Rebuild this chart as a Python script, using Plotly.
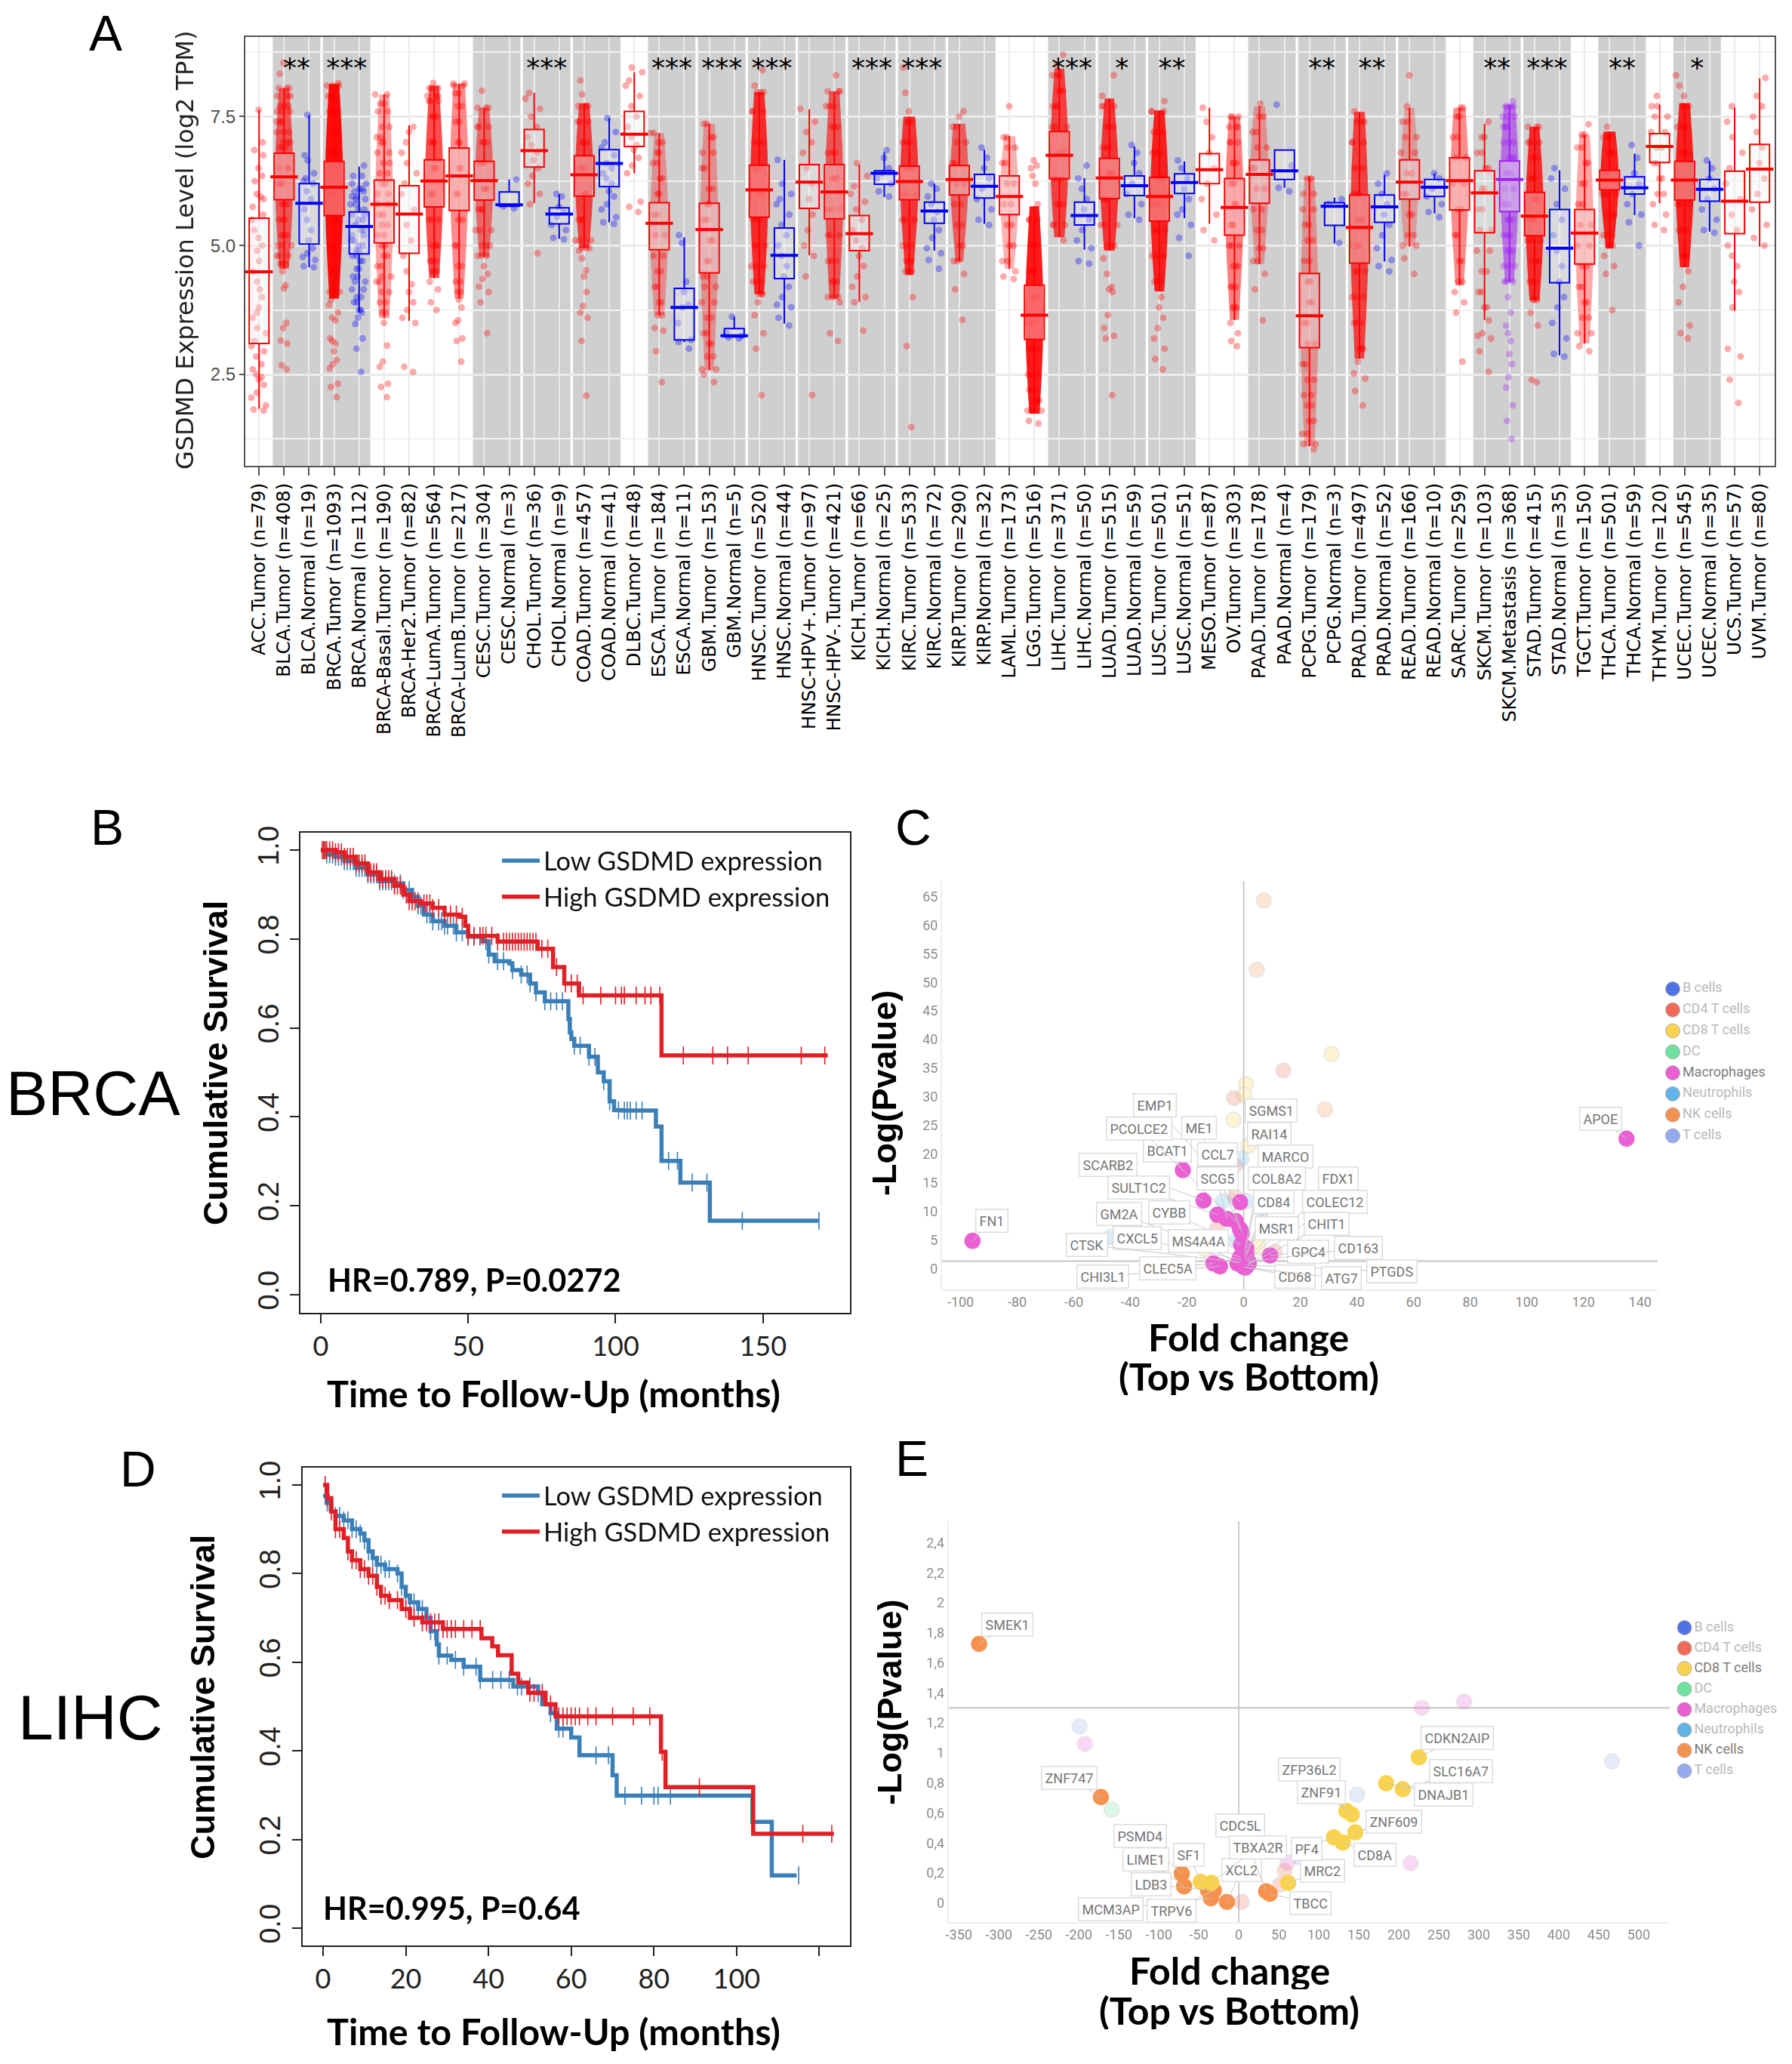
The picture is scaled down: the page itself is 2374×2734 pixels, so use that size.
import plotly.graph_objects as go

W, H = 2374, 2734

# ---- panel A ----
CATEGORIES = ["ACC.Tumor (n=79)", "BLCA.Tumor (n=408)", "BLCA.Normal (n=19)", "BRCA.Tumor (n=1093)", "BRCA.Normal (n=112)",
              "BRCA-Basal.Tumor (n=190)", "BRCA-Her2.Tumor (n=82)", "BRCA-LumA.Tumor (n=564)", "BRCA-LumB.Tumor (n=217)",
              "CESC.Tumor (n=304)", "CESC.Normal (n=3)", "CHOL.Tumor (n=36)", "CHOL.Normal (n=9)", "COAD.Tumor (n=457)",
              "COAD.Normal (n=41)", "DLBC.Tumor (n=48)", "ESCA.Tumor (n=184)", "ESCA.Normal (n=11)", "GBM.Tumor (n=153)",
              "GBM.Normal (n=5)", "HNSC.Tumor (n=520)", "HNSC.Normal (n=44)", "HNSC-HPV+.Tumor (n=97)", "HNSC-HPV-.Tumor (n=421)",
              "KICH.Tumor (n=66)", "KICH.Normal (n=25)", "KIRC.Tumor (n=533)", "KIRC.Normal (n=72)", "KIRP.Tumor (n=290)",
              "KIRP.Normal (n=32)", "LAML.Tumor (n=173)", "LGG.Tumor (n=516)", "LIHC.Tumor (n=371)", "LIHC.Normal (n=50)",
              "LUAD.Tumor (n=515)", "LUAD.Normal (n=59)", "LUSC.Tumor (n=501)", "LUSC.Normal (n=51)", "MESO.Tumor (n=87)",
              "OV.Tumor (n=303)", "PAAD.Tumor (n=178)", "PAAD.Normal (n=4)", "PCPG.Tumor (n=179)", "PCPG.Normal (n=3)",
              "PRAD.Tumor (n=497)", "PRAD.Normal (n=52)", "READ.Tumor (n=166)", "READ.Normal (n=10)", "SARC.Tumor (n=259)",
              "SKCM.Tumor (n=103)", "SKCM.Metastasis (n=368)", "STAD.Tumor (n=415)", "STAD.Normal (n=35)", "TGCT.Tumor (n=150)",
              "THCA.Tumor (n=501)", "THCA.Normal (n=59)", "THYM.Tumor (n=120)", "UCEC.Tumor (n=545)", "UCEC.Normal (n=35)",
              "UCS.Tumor (n=57)", "UVM.Tumor (n=80)"]
Q3 = [5.53, 6.79, 6.20, 6.63, 5.65, 6.27, 6.16, 6.66, 6.89, 6.63, 6.04, 7.25, 5.73, 6.74, 6.86, 7.60, 5.83, 4.17, 5.82, 3.39,
      6.56, 5.34, 6.57, 6.57, 5.58, 6.45, 6.54, 5.84, 6.55, 6.38, 6.35, 4.23, 7.21, 5.84, 6.69, 6.35, 6.32, 6.39, 6.78, 6.30,
      6.66, 6.85, 4.46, 5.83, 5.98, 5.98, 6.66, 6.28, 6.70, 6.45, 6.64, 6.03, 5.70, 5.70, 6.46, 6.33, 7.17, 6.63, 6.28, 6.44, 6.96]
MEDIAN = [4.49, 6.33, 5.82, 6.13, 5.37, 5.80, 5.61, 6.25, 6.35, 6.26, 5.79, 6.84, 5.61, 6.37, 6.59, 7.16, 5.43, 3.80, 5.31, 3.25,
          6.08, 4.81, 6.23, 6.04, 5.23, 6.40, 6.24, 5.67, 6.28, 6.15, 5.95, 3.65, 6.75, 5.58, 6.31, 6.16, 5.95, 6.22, 6.47, 5.74,
          6.38, 6.45, 3.64, 5.76, 5.35, 5.75, 6.23, 6.13, 6.26, 6.02, 6.28, 5.57, 4.95, 5.24, 6.27, 6.12, 6.92, 6.27, 6.09, 5.86, 6.48]
Q1 = [3.10, 5.89, 5.03, 5.58, 4.84, 5.05, 4.85, 5.75, 5.68, 5.88, 5.76, 6.52, 5.42, 5.96, 6.14, 6.92, 4.92, 3.17, 4.47, 3.23,
      5.55, 4.36, 5.72, 5.52, 4.90, 6.19, 5.89, 5.43, 5.98, 5.92, 5.60, 3.18, 6.30, 5.40, 5.91, 5.97, 5.47, 6.01, 6.20, 5.20,
      5.82, 6.28, 3.02, 5.39, 4.66, 5.45, 5.90, 5.95, 5.69, 5.25, 5.66, 5.19, 4.28, 4.64, 6.08, 6.00, 6.61, 5.88, 5.86, 5.23, 5.84]
WHISKER_HI = [7.63, 8.05, 7.53, 8.13, 6.53, 7.93, 7.33, 8.10, 8.14, 7.67, 6.28, 7.96, 6.00, 7.76, 7.47, 8.36, 7.18, 5.16, 7.36, 3.62,
              7.97, 6.66, 7.64, 7.99, 6.57, 6.81, 7.50, 6.20, 7.36, 6.86, 7.12, 5.76, 8.43, 6.31, 7.85, 6.92, 7.62, 6.63, 7.67, 7.50,
              7.70, 6.85, 6.34, 5.93, 7.59, 6.37, 7.67, 6.40, 7.67, 7.36, 7.73, 7.30, 6.46, 7.15, 7.21, 6.78, 7.73, 7.76, 6.64, 7.67, 8.24]
WHISKER_LO = [1.83, 4.55, 4.58, 3.97, 3.71, 3.59, 3.54, 4.37, 3.97, 4.78, 5.76, 5.82, 5.13, 4.95, 5.45, 6.40, 3.65, 3.13, 2.58, 3.22,
              4.06, 3.49, 4.81, 3.97, 3.91, 5.94, 4.43, 4.90, 4.69, 5.42, 4.55, 1.74, 5.16, 4.92, 4.90, 5.53, 4.11, 5.53, 5.42, 3.56,
              4.64, 6.12, 1.11, 5.04, 2.81, 4.69, 4.98, 5.62, 4.23, 3.56, 4.29, 3.94, 2.87, 3.10, 4.95, 5.59, 5.82, 4.58, 5.27, 3.74, 4.98]
POINTS = [
    [7.63, 7.0, 6.85, 6.75, 6.5, 6.35, 6.25, 6.0, 5.95, 5.9, 5.75, 5.6, 5.5, 5.3, 5.15, 5.0, 4.9, 4.7, 4.5, 4.3, 4.15, 4.0, 3.8, 3.7, 3.6, 3.4, 3.3, 3.15, 3.05, 2.95, 2.85, 2.7, 2.6, 2.5, 2.45, 2.4, 2.3, 2.15, 2.05, 1.9, 1.82, 1.8],
    [8.54, 8.33, 8.05, 7.9, 7.7, 7.6, 7.4, 7.2, 7.0, 6.9, 6.5, 6.2, 5.8, 5.5, 5.2, 5.0, 4.8, 4.65, 4.5, 4.23, 4.17, 3.5, 3.4, 3.16, 3.1, 2.68, 2.6],
    [7.53, 6.75, 6.65, 6.4, 6.3, 6.25, 6.2, 6.05, 5.9, 5.7, 5.5, 5.3, 5.1, 4.95, 4.85, 4.78, 4.72, 4.6, 4.58],
    [8.15, 8.1, 7.9, 7.6, 7.2, 6.8, 6.5, 6.0, 5.5, 5.0, 4.5, 4.1, 3.95, 3.85, 3.7, 3.6, 3.55, 3.2, 3.15, 3.1, 2.95, 2.78, 2.7, 2.62, 2.32, 2.26, 2.06],
    [6.55, 6.35, 6.2, 6.1, 6.05, 5.95, 5.9, 5.8, 5.7, 5.6, 5.5, 5.4, 5.3, 5.2, 5.1, 5, 4.9, 4.8, 4.7, 4.55, 4.4, 4.3, 4.15, 4, 3.9, 3.75, 3.7, 3.6, 3.48, 3.2, 3.0, 2.55],
    [7.93, 7.75, 7.6, 7.3, 7.1, 7, 6.8, 6.6, 6.4, 6.2, 6, 5.8, 5.6, 5.4, 5.2, 5, 4.8, 4.6, 4.4, 4.3, 4.1, 3.9, 3.7, 3.5, 3.06, 2.75, 2.65, 2.32, 2.26, 2.06],
    [7.3, 7.2, 7, 6.8, 6.6, 6.4, 6.2, 6, 5.7, 5.4, 5.1, 4.8, 4.5, 4.25, 4.1, 3.9, 3.75, 3.6, 3.5, 2.65, 2.55],
    [8.15, 8.05, 7.9, 7.8, 7.5, 7, 6.5, 6, 5.5, 5, 4.7, 4.5, 4.3, 4.15, 3.9, 3.75],
    [8.14, 8.1, 7.95, 7.7, 7.4, 7, 6.5, 6, 5.5, 5, 4.6, 4.3, 4.1, 3.95, 3.8, 3.55, 3.5, 3.2, 3.15, 2.75],
    [8.0, 7.67, 7.3, 7, 6.6, 6.1, 5.7, 5.3, 5, 4.8, 4.6, 4.45, 4.35, 4.2, 4.1, 3.9, 3.3],
    [6.28, 5.76, 5.72],
    [7.96, 7.85, 7.65, 7.5, 7.3, 7.1, 6.95, 6.8, 6.65, 6.5, 6.35, 6.2, 6.0, 5.8, 4.85],
    [6.0, 5.95, 5.75, 5.65, 5.55, 5.4, 5.3, 5.15, 5.12],
    [8.2, 7.93, 7.7, 7.4, 7, 6.5, 6, 5.5, 5.1, 4.95, 4.9, 4.75, 4.52, 4.4, 4.1, 3.83, 3.7, 3.6, 3.15, 2.09],
    [7.47, 7.2, 7, 6.9, 6.75, 6.6, 6.5, 6.4, 6.3, 6.2, 6.05, 5.95, 5.8, 5.7, 5.55, 5.45, 5.42],
    [8.45, 8.36, 8.2, 8.1, 7.9, 7.7, 7.5, 7.3, 7.1, 6.95, 6.85, 6.7, 6.55, 6.4, 5.85, 5.75, 5.65],
    [7.18, 7.0, 6.8, 6.6, 6.3, 6, 5.6, 5.2, 4.8, 4.5, 4.2, 3.9, 3.65, 3.4, 3.35, 2.95, 2.35],
    [5.2, 5.05, 4.3, 4.1, 3.85, 3.8, 3.5, 3.17, 3.13, 3.0],
    [7.36, 7.1, 6.8, 6.5, 6.1, 5.8, 5.5, 5.1, 4.7, 4.4, 4.2, 3.9, 3.6, 3.3, 3.1, 2.85, 2.6, 2.5, 2.35],
    [3.62, 3.3, 3.25, 3.22, 3.2],
    [8.4, 8.1, 7.97, 7.6, 7, 6.5, 6, 5.5, 5, 4.6, 4.3, 4.06, 3.9, 3.65, 3.3, 3.0, 2.1],
    [6.66, 6.2, 6.0, 5.9, 5.8, 5.6, 5.4, 5.2, 5.0, 4.8, 4.6, 4.4, 4.2, 4.0, 3.85, 3.8, 3.6, 3.45],
    [7.65, 7.4, 7.2, 7, 6.8, 6.5, 6.2, 5.9, 5.6, 5.3, 5, 4.8, 4.4, 2.1],
    [8.3, 7.99, 7.7, 7.3, 6.8, 6.3, 5.7, 5.2, 4.7, 4.3, 4, 3.9, 3.3, 3.15],
    [6.6, 6.35, 6.15, 6.0, 5.85, 5.7, 5.5, 5.3, 5.1, 4.95, 4.8, 4.6, 4.4, 4.2, 4.0, 3.9, 3.35],
    [6.85, 6.7, 6.5, 6.4, 6.3, 6.2, 6.05, 5.95],
    [8.45, 7.96, 7.6, 7.4, 7, 6.5, 6, 5.5, 5, 4.7, 4.5, 4.0, 3.05, 1.48],
    [6.2, 6.1, 5.95, 5.8, 5.65, 5.5, 5.3, 5.15, 4.95, 4.85, 4.72, 4.55],
    [7.6, 7.5, 7.3, 7, 6.6, 6.2, 5.8, 5.4, 5, 4.7, 4.45, 4.15, 3.56],
    [6.9, 6.7, 6.5, 6.3, 6.1, 5.9, 5.7, 5.5, 5.4],
    [7.7, 7.1, 6.9, 6.6, 6.2, 5.8, 5.4, 5, 4.7, 4.5, 4.4, 4.35],
    [6.65, 6.55, 6.5, 6.35, 6.2, 5.8, 5.5, 5, 4.5, 4, 3.5, 3, 2.5, 2.2, 2, 1.8, 1.6, 1.55],
    [8.7, 8.5, 8.3, 8, 7.7, 7.3, 6.8, 6.3, 5.8, 5.4, 5.1],
    [6.55, 6.3, 6.1, 5.9, 5.7, 5.5, 5.3, 5.1, 4.95, 4.7, 4.65],
    [8.3, 7.9, 7.7, 7.3, 6.9, 6.4, 5.9, 5.4, 5, 4.75, 4.45, 4.2, 4.15, 4.1, 3.65, 3.4, 3.25, 3.2, 2.1],
    [6.95, 6.8, 6.6, 6.4, 6.2, 6, 5.8, 5.6, 5.5],
    [7.8, 7.6, 7.2, 6.8, 6.3, 5.8, 5.3, 4.8, 4.3, 4, 3.8, 3.6, 3.4, 3.2, 3, 2.8, 2.6],
    [6.65, 6.5, 6.3, 6.1, 5.9, 5.7, 5.6, 5.4, 5.15, 4.8],
    [7.67, 7.4, 7.1, 6.8, 6.5, 6.2, 5.9, 5.6, 5.3, 5.1],
    [7.5, 7.3, 7, 6.6, 6.2, 5.8, 5.4, 5, 4.6, 4.2, 3.8, 3.5, 3.3, 3.15, 3.05],
    [7.75, 7.5, 7.2, 6.9, 6.5, 6.1, 5.7, 5.3, 4.95, 4.7, 4.45, 4.15, 3.55],
    [7.73, 6.55, 6.12, 6.05],
    [6.3, 6, 5.7, 5.4, 5.1, 4.7, 4.3, 3.9, 3.5, 3.1, 2.7, 2.4, 2.1, 1.9, 1.6, 1.35, 1.15, 1.05],
    [5.9, 5.8, 5.05],
    [7.6, 7.4, 7, 6.5, 6, 5.5, 5, 4.5, 4, 3.5, 3, 2.75, 2.52, 2.42, 2.18, 1.9],
    [6.4, 6.2, 6, 5.8, 5.6, 5.4, 5.2, 4.95, 4.72, 4.6, 4.5],
    [8.3, 7.7, 7.4, 7.1, 6.8, 6.4, 6, 5.6, 5.2, 5, 4.75, 4.45],
    [6.4, 6.3, 6.1, 5.95, 5.8, 5.65, 5.55],
    [7.67, 7.5, 7.1, 6.7, 6.2, 5.7, 5.2, 4.7, 4.3, 4.1, 3.9, 3.7, 2.75],
    [7.4, 7.1, 6.8, 6.5, 6.1, 5.7, 5.3, 4.9, 4.5, 4.1, 3.8, 3.55, 3.3, 3.25, 3.2, 2.95, 2.55],
    [7.8, 7.7, 7.5, 7.3, 7, 6.7, 6.4, 6.1, 5.8, 5.5, 5.2, 4.9, 4.6, 4.3, 4, 3.7, 3.45, 3.3, 3.15, 2.9, 2.7, 2.45, 2.25, 1.9, 1.6, 1.25],
    [7.3, 7, 6.7, 6.3, 5.9, 5.5, 5.1, 4.7, 4.3, 3.95, 3.7, 3.45, 2.4, 2.35],
    [6.5, 6.3, 6.1, 5.8, 5.5, 5.2, 4.9, 4.6, 4.3, 4, 3.8, 3.5, 3.2, 2.9, 2.85],
    [7.35, 7.15, 6.9, 6.6, 6.2, 5.8, 5.4, 5, 4.6, 4.2, 3.9, 3.6, 3.3, 3.05, 2.95],
    [7.3, 7.1, 6.8, 6.4, 6, 5.6, 5.2, 5, 4.8, 4.6, 4.45, 3.75],
    [6.95, 6.7, 6.4, 6.2, 6, 5.8, 5.6, 5.45, 5.0],
    [7.9, 7.7, 7.5, 7.2, 6.9, 6.6, 6.3, 6, 5.8, 5.6, 5.4, 5.3],
    [8.3, 8.1, 7.9, 7.7, 7.3, 6.8, 6.3, 5.8, 5.3, 4.8, 4.5, 4.2, 3.9, 3.45, 3.3, 3.2],
    [6.65, 6.5, 6.3, 6.1, 5.9, 5.7, 5.5, 5.3, 5.25],
    [7.7, 7.4, 7.1, 6.8, 6.5, 6.2, 5.9, 5.6, 5.3, 5, 4.8, 4.6, 4.3, 4.1, 3.8, 3.0, 2.85, 2.4, 1.95],
    [8.25, 7.9, 7.7, 7.5, 7.2, 6.9, 6.6, 6.3, 6, 5.7, 5.4, 5.15, 5],
]
# crowded clouds get a soft density body under the dots
CORE_CATS = ["BLCA.Tumor", "BRCA.Tumor", "BRCA-LumA.Tumor", "BRCA-LumB.Tumor", "CESC.Tumor", "COAD.Tumor", "HNSC.Tumor", "HNSC-HPV-.Tumor",
             "KIRC.Tumor", "KIRP.Tumor", "LGG.Tumor", "LIHC.Tumor", "LUAD.Tumor", "LUSC.Tumor", "OV.Tumor", "PRAD.Tumor",
             "SARC.Tumor", "SKCM.Metastasis", "STAD.Tumor", "TGCT.Tumor", "THCA.Tumor", "UCEC.Tumor", "BRCA-Basal.Tumor",
             "GBM.Tumor", "ESCA.Tumor", "LAML.Tumor", "PAAD.Tumor", "PCPG.Tumor", "READ.Tumor"]
CORE_ALPHA = [0.6, 0.95, 0.7, 0.45, 0.5, 0.7, 0.8, 0.6, 0.75, 0.55, 0.9, 0.7, 0.75, 0.85, 0.5, 0.7, 0.45, 0.55, 0.8, 0.35, 0.85, 0.85, 0.35,
              0.3, 0.3, 0.3, 0.3, 0.3, 0.25]

GREY_BANDS = ["BLCA", "BRCA", "CESC", "CHOL", "COAD", "ESCA", "GBM", "HNSC", "HNSC-HPV", "KICH", "KIRC", "KIRP", "LIHC", "LUAD",
              "LUSC", "PAAD", "PCPG", "PRAD", "READ", "SKCM", "STAD", "THCA", "UCEC"]
STAR_CANCERS = ["BLCA", "BRCA", "CHOL", "ESCA", "GBM", "HNSC", "KICH", "KIRC", "LIHC", "LUAD", "LUSC", "PCPG", "PRAD", "SKCM", "STAD", "THCA", "UCEC"]
STAR_TEXT = ["**", "***", "***", "***", "***", "***", "***", "***", "***", "*", "**", "**", "**", "**", "***", "**", "*"]

# ---- panels B, D: survival curves ----
B_LOW_T = [0, 2, 5, 8, 12, 16, 20, 25, 28, 31, 33, 35, 38, 42, 46, 50, 55, 57, 59, 64, 65, 68, 71, 73, 76, 84, 84.5, 85, 86, 91, 94, 96, 98, 99.5, 102, 113.7, 115.6, 122, 132, 169]
B_LOW_S = [1.0, 0.99, 0.985, 0.975, 0.96, 0.945, 0.93, 0.925, 0.91, 0.895, 0.875, 0.855, 0.84, 0.83, 0.815, 0.805, 0.795, 0.765, 0.75, 0.745, 0.73, 0.72, 0.70, 0.68, 0.66, 0.62, 0.59, 0.575, 0.56, 0.535, 0.50, 0.48, 0.435, 0.415, 0.414, 0.378, 0.301, 0.252, 0.166, 0.166]
B_HIGH_T = [0, 5, 8, 12, 16, 20, 25, 28, 30, 34, 38, 42, 47, 49, 50, 60, 73.6, 78.8, 82.6, 87.6, 115.6, 172]
B_HIGH_S = [1.0, 0.995, 0.985, 0.97, 0.95, 0.935, 0.92, 0.90, 0.885, 0.88, 0.87, 0.855, 0.85, 0.83, 0.807, 0.794, 0.778, 0.737, 0.70, 0.673, 0.538, 0.538]
B_LOW_CENSOR = [1, 2, 3, 4, 5, 6, 7, 8, 9, 10, 11, 12, 13, 14, 15, 16, 17, 18, 19, 20, 21, 22, 23, 24, 25, 27, 28, 30, 31, 33, 34, 36, 37, 38, 40, 41, 42, 43, 45, 46, 48, 50, 52, 54, 56, 57, 60, 62, 65, 68, 70, 71, 73, 76, 78, 80, 82, 84, 86, 88, 91, 93, 96, 98, 101, 103, 104, 105, 107, 109, 118, 121, 126, 131, 143, 169]
B_HIGH_CENSOR = [0.5, 1, 1.5, 2, 3, 4, 5, 6, 7, 8, 9, 10, 11, 12, 13, 14, 15, 16, 17, 18, 19, 20, 21, 22, 23, 24, 25, 26, 27, 29, 30, 31, 32, 33, 35, 36, 37, 38, 40, 42, 44, 46, 48, 50, 52, 54, 55, 56, 58, 60, 62, 63, 64, 65, 66, 67, 68, 69, 70, 71, 72, 73, 75, 77, 80, 83, 85, 87, 89, 95, 100, 102, 103, 107, 110, 112, 115, 123, 133, 138, 145, 163, 171]

D_LOW_T = [0, 1, 2, 3, 5, 7, 9, 10, 11, 12, 13, 15, 18, 19, 20, 21, 23, 25, 26, 27.5, 28, 31, 34, 38, 46, 52, 53, 55, 56.5, 60, 62, 70, 71, 103.8, 108.5, 114.5]
D_LOW_S = [0.975, 0.96, 0.94, 0.93, 0.92, 0.90, 0.89, 0.875, 0.85, 0.835, 0.82, 0.81, 0.80, 0.77, 0.75, 0.735, 0.72, 0.70, 0.67, 0.64, 0.615, 0.605, 0.59, 0.56, 0.545, 0.53, 0.505, 0.485, 0.45, 0.43, 0.39, 0.345, 0.299, 0.24, 0.119, 0.119]
D_HIGH_T = [0, 1, 2, 3, 5, 6, 7, 9, 11, 13, 14, 16, 19, 21, 24, 29, 38.3, 40.9, 42.3, 45.6, 47.2, 49.6, 53.8, 56.2, 81.7, 82.8, 104, 123.5]
D_HIGH_S = [1.0, 0.97, 0.94, 0.90, 0.88, 0.85, 0.83, 0.81, 0.795, 0.77, 0.75, 0.74, 0.72, 0.70, 0.69, 0.675, 0.654, 0.636, 0.616, 0.574, 0.554, 0.531, 0.505, 0.478, 0.398, 0.318, 0.213, 0.213]
D_LOW_CENSOR = [0.5, 1, 1.5, 3, 4, 5, 6, 7, 8, 9, 10, 11, 12, 13, 14, 15, 16, 18, 19, 20, 21, 22, 23, 24, 25, 26, 27, 28, 30, 32, 34, 37, 38, 41, 43, 45, 47, 48, 50, 52, 55, 57, 58, 66, 69, 73, 77, 80, 81, 84, 115]
D_HIGH_CENSOR = [0.5, 1, 2, 3, 4, 6, 7, 8, 9, 10, 11, 12, 13, 14, 15, 16, 18, 20, 22, 24, 25, 26, 27, 28, 29, 30, 31, 32, 34, 36, 38, 50, 51, 53, 55, 57, 58, 59, 60, 61, 62, 64, 66, 70, 75, 79, 82, 91, 116, 123]

# ---- panels C, E: volcano plots ----
CELL_TYPES = ["B cells", "CD4 T cells", "CD8 T cells", "DC", "Macrophages", "Neutrophils", "NK cells", "T cells"]

C_CD4_X = [14, -3.4, -3, -3, -9.4, 11]
C_CD4_Y = [34.6, 29.8, 18, 12.5, 7.1, 3]
C_CD8_X = [31, 0.8, 0.2, -3.6, 1.7, 5.2, -13.6]
C_CD8_Y = [37.5, 32.2, 30.3, 26, 21.5, 3.8, 3.4]
C_NK_X = [7.1, 4.6, 28.7]
C_NK_Y = [64.3, 52.2, 27.8]
C_NEUT_X = [-0.8, -7.3, -7.3, 1, 6.3, -47, -3]
C_NEUT_Y = [19.2, 17.9, 11.8, 11.8, 10.2, 5.5, 4.8]
C_GENES = ["APOE", "FN1", "BCAT1", "SCARB2", "SULT1C2", "EMP1", "PCOLCE2", "ME1", "CCL7", "SCG5", "CYBB", "GM2A", "CXCL5", "MS4A4A", "CTSK",
           "CHI3L1", "CLEC5A", "SGMS1", "RAI14", "MARCO", "COL8A2", "FDX1", "CD84", "COLEC12", "MSR1", "CHIT1", "GPC4", "CD163", "PTGDS", "CD68", "ATG7"]
C_GENE_X = [135.2, -95.8, -21.5, -14.2, -9.3, -1.3, -2.8, -1.3, -0.6, -6, -0.9, -1.3, -0.5, -2.2, -1.0,
            -8.4, -10.7, 0.3, 0.9, 0.4, 0.5, 1.3, 1, 1.8, 0.9, 1.5, 9.3, 1.7, 1.2, 0, 0.6]
C_GENE_Y = [22.7, 4.85, 17.2, 11.9, 9.4, 11.6, 8.3, 6.9, 6.2, 8.7, 4.2, 2, 1.5, 0.9, 1.1,
            0.4, 0.9, 3, 3.6, 2.4, 1.7, 1.2, 2.6, 0.9, 1.4, 0.7, 2.3, 1.2, 0.6, 0.3, 0.2]
C_XTICKS = [-100, -80, -60, -40, -20, 0, 20, 40, 60, 80, 100, 120, 140]
C_YTICKS = [0, 5, 10, 15, 20, 25, 30, 35, 40, 45, 50, 55, 60, 65]

E_MACRO_X = [228.8, 281.6, -192.4, 214.7, 60.9]
E_MACRO_Y = [1.30, 1.342, 1.06, 0.265, 0.27]
E_TCELL_X = [-199.1, 466.6, 147.8, 267.5, -98, 76.5, 93.6]
E_TCELL_Y = [1.177, 0.944, 0.722, 0.79, 0.214, 0.303, 0.317]
E_DC_X = [-159]
E_DC_Y = [0.622]
E_CD4_X = [57.2, 51.3, 3.7]
E_CD4_Y = [0.214, 0.122, 0.008]
E_NK_GENES = ["SMEK1", "ZNF747", "PSMD4", "LIME1", "LDB3", "MCM3AP", "TRPV6", "XCL2", "CDC5L", "TBCC"]
E_NK_X = [-324.7, -172.4, -71.3, -68.4, -38.6, -34.9, -31.2, -14.9, 34.2, 38.6]
E_NK_Y = [1.726, 0.706, 0.195, 0.111, 0.087, 0.032, 0.084, 0.008, 0.078, 0.062]
E_CD8_GENES = ["CDKN2AIP", "SLC16A7", "DNAJB1", "ZFP36L2", "ZNF91", "ZNF609", "CD8A", "MRC2", "PF4", "SF1", "TBXA2R"]
E_CD8_X = [225.1, 205, 184.2, 134.5, 141.2, 145.6, 130, 61.7, 118.9, -47.5, -34.2]
E_CD8_Y = [0.971, 0.758, 0.798, 0.614, 0.59, 0.471, 0.403, 0.135, 0.438, 0.141, 0.135]
E_XTICKS = [-350, -300, -250, -200, -150, -100, -50, 0, 50, 100, 150, 200, 250, 300, 350, 400, 450, 500]
E_YTICKS = [0, 0.2, 0.4, 0.6, 0.8, 1, 1.2, 1.4, 1.6, 1.8, 2, 2.2, 2.4]
E_YLABELS = ["0", "0,2", "0,4", "0,6", "0,8", "1", "1,2", "1,4", "1,6", "1,8", "2", "2,2", "2,4"]

# label box centres, separate from the values above
C_LABEL_AX = {"APOE": 126.2, "FN1": -88.9, "BCAT1": -26.9, "SCARB2": -48, "SULT1C2": -37, "EMP1": -31.4, "PCOLCE2": -36.9, "ME1": -15.7, "CCL7": -9.3,
              "SCG5": -9.3, "CYBB": -26.2, "GM2A": -44, "CXCL5": -37.5, "MS4A4A": -16, "CTSK": -55.4, "CHI3L1": -49.8, "CLEC5A": -26.7, "SGMS1": 9.8,
              "RAI14": 9.1, "MARCO": 14.8, "COL8A2": 11.8, "FDX1": 33.3, "CD84": 10.5, "COLEC12": 32.2, "MSR1": 11.6, "CHIT1": 29.2, "GPC4": 22.8,
              "CD163": 40.6, "PTGDS": 52.4, "CD68": 18, "ATG7": 34.4}
C_LABEL_AY = {"APOE": 26.1, "FN1": 8.3, "BCAT1": 20.6, "SCARB2": 18.1, "SULT1C2": 14.1, "EMP1": 28.6, "PCOLCE2": 24.5, "ME1": 24.6, "CCL7": 19.9,
              "SCG5": 15.7, "CYBB": 9.8, "GM2A": 9.6, "CXCL5": 5.3, "MS4A4A": 4.8, "CTSK": 4.2, "CHI3L1": -1.4, "CLEC5A": 0.05, "SGMS1": 27.6,
              "RAI14": 23.5, "MARCO": 19.6, "COL8A2": 15.7, "FDX1": 15.7, "CD84": 11.7, "COLEC12": 11.7, "MSR1": 7, "CHIT1": 7.8, "GPC4": 3,
              "CD163": 3.6, "PTGDS": -0.5, "CD68": -1.4, "ATG7": -1.7}
E_LABEL_AX = {"SMEK1": -289, "ZNF747": -211.7, "PSMD4": -123.3, "LIME1": -115.9, "SF1": -62.4, "LDB3": -110, "MCM3AP": -160.5, "TRPV6": -84, "CDC5L": 2.2,
              "TBXA2R": 23.8, "XCL2": 3.7, "PF4": 84.7, "MRC2": 104.8, "TBCC": 89.2, "CD8A": 170.1, "ZNF609": 193.9, "ZNF91": 103.3, "ZFP36L2": 87.7,
              "DNAJB1": 256.3, "SLC16A7": 277.9, "CDKN2AIP": 273.4}
E_LABEL_AY = {"SMEK1": 1.856, "ZNF747": 0.833, "PSMD4": 0.444, "LIME1": 0.292, "SF1": 0.319, "LDB3": 0.124, "MCM3AP": -0.043, "TRPV6": -0.051, "CDC5L": 0.519,
              "TBXA2R": 0.371, "XCL2": 0.222, "PF4": 0.363, "MRC2": 0.216, "TBCC": 0.0, "CD8A": 0.322, "ZNF609": 0.544, "ZNF91": 0.736, "ZFP36L2": 0.887,
              "DNAJB1": 0.725, "SLC16A7": 0.877, "CDKN2AIP": 1.101}

CELL_COLOR = {"B cells": "#4f73e3", "CD4 T cells": "#f06a58", "CD8 T cells": "#f9d34f", "DC": "#6fe0a0", "Macrophages": "#ea5fd4",
              "Neutrophils": "#62b3ea", "NK cells": "#f6924f", "T cells": "#94a9ee"}
RED, BLUE, PURPLE = "255,0,0", "0,0,255", "160,32,240"
KM_BLUE, KM_RED = "#3b7fb8", "#e01f26"
SANS, DEJAVU, CALIBRI = "Liberation Sans", "DejaVu Sans", "Lato"


def dom_x(px0, px1):
    return [px0 / W, px1 / W]


def dom_y(top, bottom):
    return [1 - bottom / H, 1 - top / H]


def text_ann(text, px, py, size, family=SANS, bold=False, angle=0, color="black", xanchor="center", height=None):
    if bold:
        text = f"<b>{text}</b>"
    return dict(text=text, x=px / W, y=1 - py / H, xref="paper", yref="paper", showarrow=False, textangle=angle, height=height,
                xanchor=xanchor, yanchor="middle", font=dict(family=family, size=size, color=color))


def box_color(cat):
    if "Metastasis" in cat:
        return PURPLE
    return BLUE if "Normal" in cat else RED


def surv_at(t, times, surv):
    value = surv[0]
    for ti, si in zip(times, surv):
        if ti <= t:
            value = si
    return value


def sample_size(cat):
    return int(cat.split("n=")[1].rstrip(")"))


fig = go.Figure()
shapes = []
annotations = []

# ---- panel A ----
labels_short = [c.split(" ")[0] for c in CATEGORIES]
for cancer in GREY_BANDS:
    i = labels_short.index(cancer + ".Tumor") if cancer + ".Tumor" in labels_short else labels_short.index(cancer + "+.Tumor")
    shapes.append(dict(type="rect", xref="x", yref="paper", x0=i - 0.45, x1=i + 1.45, y0=dom_y(48.5, 617)[0], y1=dom_y(48.5, 617)[1],
                       fillcolor="#cfcfcf", line_width=0, layer="below"))

for cat, alpha in zip(CORE_CATS, CORE_ALPHA):
    i = labels_short.index(cat)
    body = [WHISKER_LO[i], Q1[i], Q1[i], MEDIAN[i], MEDIAN[i], Q3[i], Q3[i], WHISKER_HI[i]]
    fig.add_trace(go.Violin(y=body, x0=i, width=0.72, points=False, spanmode="hard", bandwidth=(WHISKER_HI[i] - WHISKER_LO[i]) / 2.6,
                            line=dict(width=0), fillcolor=f"rgba({box_color(cat)},{alpha})", xaxis="x", yaxis="y", showlegend=False, hoverinfo="skip"))

for i, cat in enumerate(CATEGORIES):
    rgb = box_color(cat)
    n = sample_size(cat)
    repeats = 3 if n >= 300 else 2 if n >= 100 else 1
    # tails stay single dots, only the crowded middle is drawn more than once
    middle = [v for v in POINTS[i] if WHISKER_LO[i] <= v <= WHISKER_HI[i]]
    fig.add_trace(go.Box(y=POINTS[i] + middle * (repeats - 1), x0=i, width=0.74, boxpoints="all", jitter=1, pointpos=0, line=dict(width=0), fillcolor="rgba(0,0,0,0)",
                         marker=dict(color=f"rgba({rgb},0.33)", size=9, line_width=0), xaxis="x", yaxis="y", showlegend=False, hoverinfo="skip"))
    fig.add_trace(go.Box(x=[i], q1=[Q1[i]], median=[MEDIAN[i]], q3=[Q3[i]], lowerfence=[WHISKER_LO[i]], upperfence=[WHISKER_HI[i]],
                         width=0.79, whiskerwidth=0, boxpoints=False, line=dict(color=f"rgb({rgb})", width=2),
                         fillcolor="rgba(240,240,245,0.36)", xaxis="x", yaxis="y", showlegend=False, hoverinfo="skip"))
    fig.add_trace(go.Scatter(x=[i], y=[MEDIAN[i]], mode="markers", marker=dict(symbol="line-ew", size=26, line=dict(color=f"rgb({rgb})", width=4)),
                             xaxis="x", yaxis="y", showlegend=False, hoverinfo="skip"))

star_x = [labels_short.index(c + ".Tumor") + 0.5 for c in STAR_CANCERS]
fig.add_trace(go.Scatter(x=star_x, y=[8.4] * len(star_x), text=STAR_TEXT, mode="text", textposition="middle center",
                         textfont=dict(family=DEJAVU, size=36, color="black"), xaxis="x", yaxis="y", showlegend=False, hoverinfo="skip"))


# ---- survival panels ----
def add_km(low_t, low_s, high_t, high_s, low_c, high_c, xa, ya, legend):
    for times, surv, cens, color, name in [(low_t, low_s, low_c, KM_BLUE, "Low GSDMD expression"), (high_t, high_s, high_c, KM_RED, "High GSDMD expression")]:
        fig.add_trace(go.Scatter(x=times, y=surv, mode="lines", line=dict(color=color, width=5.5, shape="hv"), name=name, legend=legend,
                                 legendgroup=name, xaxis=xa, yaxis=ya, hoverinfo="skip"))
        fig.add_trace(go.Scatter(x=cens, y=[surv_at(t, times, surv) for t in cens], mode="markers", showlegend=False,
                                 marker=dict(symbol="line-ns", size=17, line=dict(color=color, width=1.6)), xaxis=xa, yaxis=ya, hoverinfo="skip"))


add_km(B_LOW_T, B_LOW_S, B_HIGH_T, B_HIGH_S, B_LOW_CENSOR, B_HIGH_CENSOR, "x2", "y2", "legend")
add_km(D_LOW_T, D_LOW_S, D_HIGH_T, D_HIGH_S, D_LOW_CENSOR, D_HIGH_CENSOR, "x4", "y4", "legend2")


# ---- volcano panels ----
def add_cells(xs, ys, cell, xa, ya, active):
    color = CELL_COLOR[cell]
    fig.add_trace(go.Scatter(x=xs, y=ys, mode="markers", opacity=1 if active else 0.25, showlegend=False, hoverinfo="skip", xaxis=xa, yaxis=ya,
                             marker=dict(size=20, color=color, line=dict(color="#999999" if not active else color, width=1.5))))


def add_labels(genes, xs, ys, ax_map, ay_map, xa, ya):
    for g, x, y in zip(genes, xs, ys):
        annotations.append(dict(text=g, x=x, y=y, xref=xa, yref=ya, ax=ax_map[g], ay=ay_map[g], axref=xa, ayref=ya, showarrow=True, arrowhead=0,
                                arrowwidth=1, arrowcolor="#c6c6c6", standoff=0, bgcolor="white", bordercolor="#dcdcdc", borderwidth=1.5, borderpad=4,
                                font=dict(family="Roboto", size=18, color="#757575")))


add_cells(C_CD4_X, C_CD4_Y, "CD4 T cells", "x3", "y3", False)
add_cells(C_CD8_X, C_CD8_Y, "CD8 T cells", "x3", "y3", False)
add_cells(C_NK_X, C_NK_Y, "NK cells", "x3", "y3", False)
add_cells(C_NEUT_X, C_NEUT_Y, "Neutrophils", "x3", "y3", False)
add_cells(C_GENE_X, C_GENE_Y, "Macrophages", "x3", "y3", True)
add_labels(C_GENES, C_GENE_X, C_GENE_Y, C_LABEL_AX, C_LABEL_AY, "x3", "y3")

add_cells(E_MACRO_X, E_MACRO_Y, "Macrophages", "x5", "y5", False)
add_cells(E_TCELL_X, E_TCELL_Y, "T cells", "x5", "y5", False)
add_cells(E_DC_X, E_DC_Y, "DC", "x5", "y5", False)
add_cells(E_CD4_X, E_CD4_Y, "CD4 T cells", "x5", "y5", False)
add_cells(E_NK_X, E_NK_Y, "NK cells", "x5", "y5", True)
add_cells(E_CD8_X, E_CD8_Y, "CD8 T cells", "x5", "y5", True)
add_labels(E_NK_GENES, E_NK_X, E_NK_Y, E_LABEL_AX, E_LABEL_AY, "x5", "y5")
add_labels(E_CD8_GENES, E_CD8_X, E_CD8_Y, E_LABEL_AX, E_LABEL_AY, "x5", "y5")

for xa, ya, threshold in [("x3", "y3", 1.3), ("x5", "y5", 1.3)]:
    shapes.append(dict(type="line", xref=xa, yref=f"{ya} domain", x0=0, x1=0, y0=0, y1=1, line=dict(color="#bdbdbd", width=1.5), layer="below"))
    shapes.append(dict(type="line", xref=f"{xa} domain", yref=ya, x0=0, x1=1, y0=threshold, y1=threshold, line=dict(color="#c4c4c4", width=2), layer="below"))


# cell type keys, on their own small axes
def add_key(active, xa, ya):
    fig.add_trace(go.Scatter(x=[0] * len(CELL_TYPES), y=list(range(len(CELL_TYPES))), mode="markers+text", text=CELL_TYPES, textposition="middle right",
                             textfont=dict(family="Roboto", size=18, color=["#7d7d7d" if c in active else "#b9b9b9" for c in CELL_TYPES]),
                             marker=dict(size=19, color=[CELL_COLOR[c] for c in CELL_TYPES], line=dict(color="#b0b0b0", width=1)),
                             xaxis=xa, yaxis=ya, showlegend=False, hoverinfo="skip"))


add_key(["Macrophages"], "x6", "y6")
add_key(["CD8 T cells", "NK cells"], "x7", "y7")

# ---- text ----
for text, px, py, size in [("A", 140, 44, 66), ("B", 142, 1096, 66), ("C", 1210, 1096, 66), ("D", 183, 1946, 66), ("E", 1208, 1932, 66),
                           ("BRCA", 124, 1448, 83), ("LIHC", 119, 2275, 84)]:
    annotations.append(text_ann(text, px, py, size))
annotations.append(text_ann("GSDMD Expression Level (log2 TPM)", 245, 332, 32, DEJAVU, angle=-90, color="#222222"))
annotations.append(text_ann("Cumulative Survival", 285, 1408, 45, SANS, True, -90))
annotations.append(text_ann("Cumulative Survival", 268, 2248, 45, SANS, True, -90))
annotations.append(text_ann("Time to Follow-Up (months)", 733, 1845, 48.5, CALIBRI, True))
annotations.append(text_ann("Time to Follow-Up (months)", 733, 2690, 48.5, CALIBRI, True))
annotations.append(text_ann("HR=0.789, P=0.0272", 432, 1695, 41.5, CALIBRI, True, xanchor="left"))
annotations.append(text_ann("HR=0.995, P=0.64", 426, 2527, 41.5, CALIBRI, True, xanchor="left"))
annotations.append(text_ann("-Log(Pvalue)", 1171, 1448, 45, SANS, True, -90))
annotations.append(text_ann("-Log(Pvalue)", 1178, 2255, 45, SANS, True, -90))
annotations.append(text_ann("Fold change", 1654, 1771, 50, CALIBRI, True, height=50))
annotations.append(text_ann("(Top vs Bottom)", 1654, 1823, 50, CALIBRI, True, height=50))
annotations.append(text_ann("Fold change", 1629, 2610, 50, CALIBRI, True, height=50))
annotations.append(text_ann("(Top vs Bottom)", 1629, 2663, 50, CALIBRI, True, height=50))


def km_axes(domx, domy, xrange, yrange, xticks, xtext, anchor_x, anchor_y):
    line = dict(showline=True, mirror=True, linecolor="#222222", linewidth=2, ticks="outside", ticklen=12, tickcolor="#222222", tickwidth=2,
                showgrid=False, zeroline=False)
    xa = dict(domain=domx, range=xrange, anchor=anchor_y, tickvals=xticks, ticktext=xtext, tickfont=dict(family=CALIBRI, size=36, color="#222222"), **line)
    ya = dict(domain=domy, range=yrange, anchor=anchor_x, tickvals=[0, 0.2, 0.4, 0.6, 0.8, 1.0], ticktext=["0.0", "0.2", "0.4", "0.6", "0.8", "1.0"],
              tickangle=-90, tickfont=dict(family=SANS, size=38, color="#222222"), **line)
    return xa, ya


def volcano_axes(domx, domy, xrange, yrange, xticks, yticks, ytext, anchor_x, anchor_y):
    common = dict(showline=True, linecolor="#ededed", linewidth=1.5, showgrid=False, zeroline=False, ticks="",
                  tickfont=dict(family="Roboto", size=18, color="#8c8c8c"))
    xa = dict(domain=domx, range=xrange, anchor=anchor_y, tickvals=xticks, ticktext=[str(v) for v in xticks], **common)
    ya = dict(domain=domy, range=yrange, anchor=anchor_x, tickvals=yticks, ticktext=ytext, **common)
    return xa, ya


b_x, b_y = km_axes(dom_x(398, 1125.5), dom_y(1102.5, 1739), [-6.9, 179.4], [-0.041, 1.04], [0, 50, 100, 150], ["0", "50", "100", "150"], "x2", "y2")
d_x, d_y = km_axes(dom_x(400.6, 1126), dom_y(1944, 2577), [-5, 127.4], [-0.039, 1.039], [0, 20, 40, 60, 80, 100, 120], ["0", "20", "40", "60", "80", "100", ""], "x4", "y4")
c_x, c_y = volcano_axes(dom_x(1247.8, 2196), dom_y(1167, 1708), [-106.6, 146.2], [-3.64, 67.7], C_XTICKS, C_YTICKS, [str(v) for v in C_YTICKS], "x3", "y3")
e_x, e_y = volcano_axes(dom_x(1256.5, 2212), dom_y(2015, 2546), [-363, 538.7], [-0.127, 2.543], E_XTICKS, E_YTICKS, E_YLABELS, "x5", "y5")


def legend_at(px, py):
    return dict(x=px / W, y=1 - py / H, xanchor="left", yanchor="top", bgcolor="rgba(0,0,0,0)", font=dict(family=CALIBRI, size=34.5, color="#111111"),
                itemwidth=50, tracegroupgap=7, traceorder="normal")


hidden = dict(visible=False, showgrid=False, zeroline=False)

fig.update_layout(
    width=W, height=H, autosize=False, margin=dict(l=0, r=0, t=0, b=0, autoexpand=False), paper_bgcolor="white", plot_bgcolor="white",
    boxmode="overlay", violinmode="overlay", showlegend=True, shapes=shapes, annotations=annotations,
    legend=legend_at(660, 1111), legend2=legend_at(660, 1952),
    xaxis=dict(domain=dom_x(325, 2351), range=[-0.55, 60.6], anchor="y", tickvals=list(range(len(CATEGORIES))), ticktext=CATEGORIES, tickangle=-90,
               tickfont=dict(family=DEJAVU, size=24.5, color="black"), ticks="outside", ticklen=11, tickcolor="#555555", tickwidth=2,
               showgrid=True, gridcolor="#ebebeb", gridwidth=2, zeroline=False, showline=True, mirror=True, linecolor="#555555", linewidth=2),
    yaxis=dict(domain=dom_y(48.5, 617), range=[0.73, 9.05], anchor="x", tickvals=[2.5, 5.0, 7.5], ticktext=["2.5", "5.0", "7.5"],
               tickfont=dict(family=SANS, size=24, color="#4d4d4d"), ticks="outside", ticklen=6, tickcolor="#555555", tickwidth=2,
               showgrid=True, gridcolor="#ebebeb", gridwidth=3, zeroline=False, showline=True, mirror=True, linecolor="#555555", linewidth=2,
               minor=dict(tickvals=[1.25, 3.75, 6.25, 8.75], showgrid=True, gridcolor="#f2f2f2", gridwidth=2, ticks="")),
    xaxis2=b_x, yaxis2=b_y, xaxis3=c_x, yaxis3=c_y, xaxis4=d_x, yaxis4=d_y, xaxis5=e_x, yaxis5=e_y,
    xaxis6=dict(domain=dom_x(2200, 2374), range=[-16, 158], anchor="y6", **hidden),
    yaxis6=dict(domain=dom_y(1296, 1518.4), range=[7.5, -0.5], anchor="x6", **hidden),
    xaxis7=dict(domain=dom_x(2215.5, 2374), range=[-16, 142.5], anchor="y7", **hidden),
    yaxis7=dict(domain=dom_y(2142.5, 2359.3), range=[7.5, -0.5], anchor="x7", **hidden),
)

fig.write_html("out.html", config={"displayModeBar": False}, post_script="document.body.style.margin='0';")
